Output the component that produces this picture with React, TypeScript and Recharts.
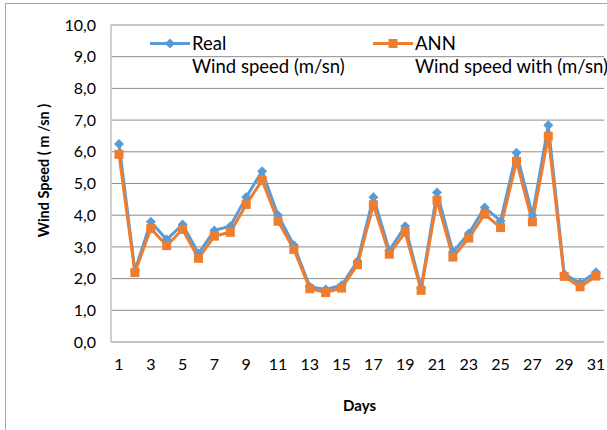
import { LineChart, Line, XAxis, YAxis, CartesianGrid, Label } from 'recharts';

// days of the month
const days = [
  1, 2, 3, 4, 5, 6, 7, 8, 9, 10, 11, 12, 13, 14, 15, 16,
  17, 18, 19, 20, 21, 22, 23, 24, 25, 26, 27, 28, 29, 30, 31,
];

// measured wind speed (m/sn)
const realSpeed = [
  6.25, 2.25, 3.79, 3.23, 3.71, 2.79, 3.52, 3.65, 4.57, 5.39, 4.0, 3.05, 1.74, 1.66, 1.79, 2.55,
  4.57, 2.89, 3.65, 1.7, 4.72, 2.84, 3.42, 4.24, 3.82, 5.97, 4.0, 6.84, 2.14, 1.86, 2.2,
];

// ANN predicted wind speed (m/sn)
const annSpeed = [
  5.92, 2.19, 3.58, 3.04, 3.55, 2.64, 3.34, 3.46, 4.34, 5.1, 3.81, 2.92, 1.68, 1.56, 1.7, 2.44,
  4.33, 2.77, 3.46, 1.63, 4.47, 2.68, 3.28, 4.03, 3.61, 5.7, 3.79, 6.49, 2.07, 1.74, 2.08,
];

const yTicks = [0, 1, 2, 3, 4, 5, 6, 7, 8, 9, 10];
const seriesNames = ['Real', 'ANN'];
const seriesSubtitles = ['Wind speed (m/sn)', 'Wind speed with (m/sn)'];
const seriesColors = ['#5b9bd5', '#ed7d31'];

const FONT = 'Lato, "Open Sans", sans-serif';

const data = days.map((d, i) => ({ day: d, real: realSpeed[i], ann: annSpeed[i] }));

function Diamond({ cx, cy, fill, size = 5 }: any) {
  if (cx == null || cy == null) return null;
  return (
    <path
      d={`M${cx},${cy - size}L${cx + size},${cy}L${cx},${cy + size}L${cx - size},${cy}Z`}
      fill={fill}
    />
  );
}

function Square({ cx, cy, fill, size = 4.5 }: any) {
  if (cx == null || cy == null) return null;
  return <rect x={cx - size} y={cy - size} width={size * 2} height={size * 2} fill={fill} />;
}

// legend sits over the plot, so it is drawn outside recharts' layout
function ChartLegend() {
  return (
    <div
      style={{
        position: 'absolute',
        left: 150,
        top: 32,
        width: 460,
        height: 50,
        fontFamily: FONT,
        fontSize: 18.5,
        color: '#000',
      }}
    >
      {seriesNames.map((name, i) => (
        <div key={name} style={{ position: 'absolute', left: i * 223, top: 0, display: 'flex' }}>
          <svg width={42} height={23} style={{ display: 'block' }}>
            <line x1={0} y1={11.5} x2={40} y2={11.5} stroke={seriesColors[i]} strokeWidth={3} />
            {i === 0 ? (
              <Diamond cx={20} cy={11.5} fill={seriesColors[i]} />
            ) : (
              <Square cx={20} cy={11.5} fill={seriesColors[i]} />
            )}
          </svg>
          <div style={{ lineHeight: '23px', whiteSpace: 'nowrap' }}>
            <div>{name}</div>
            <div>{seriesSubtitles[i]}</div>
          </div>
        </div>
      ))}
    </div>
  );
}

export default function App() {
  return (
    <div style={{ position: 'absolute', left: 0, top: 0, width: 607, height: 430, background: '#fff', overflow: 'hidden' }}>
      <div
        style={{
          position: 'absolute',
          left: 5,
          top: 3,
          width: 610,
          height: 440,
          borderLeft: '1px solid #a6a6a6',
          borderTop: '1px solid #a6a6a6',
        }}
      />
      <LineChart
        width={607}
        height={430}
        data={data}
        margin={{ top: 25, right: 3, left: 0, bottom: 0 }}
        style={{ position: 'absolute', left: 0, top: 0 }}
      >
        <CartesianGrid vertical={false} stroke="#8c8c8c" strokeWidth={1} />
        <XAxis
          dataKey="day"
          interval={1}
          height={88}
          padding={{ left: 8, right: 8 }}
          tickLine={false}
          tickSize={0}
          tickMargin={17}
          axisLine={{ stroke: '#c0c0c0', strokeWidth: 1.5 }}
          tick={{ fill: '#000', fontSize: 16, fontFamily: FONT }}
        >
          <Label
            content={({ viewBox }: any) => (
              <text
                x={viewBox.x + viewBox.width / 2 + 2}
                y={viewBox.y + 69}
                textAnchor="middle"
                fontFamily={FONT}
                fontSize={15}
                fontWeight="bold"
                fill="#000"
              >
                Days
              </text>
            )}
          />
        </XAxis>
        <YAxis
          width={111}
          domain={[0, 10]}
          ticks={yTicks}
          tickLine={false}
          tickSize={0}
          tickMargin={15}
          axisLine={{ stroke: '#c0c0c0', strokeWidth: 1.5 }}
          tick={{ fill: '#000', fontSize: 16, fontFamily: FONT }}
          tickFormatter={(v: number) => v.toFixed(1).replace('.', ',')}
        >
          <Label
            content={({ viewBox }: any) => {
              const x = 43.5;
              const y = viewBox.y + viewBox.height / 2 - 13;
              return (
                <text
                  x={x}
                  y={y}
                  transform={`rotate(-90, ${x}, ${y})`}
                  textAnchor="middle"
                  dominantBaseline="central"
                  fontFamily={FONT}
                  fontSize={14.5}
                  fontWeight="bold"
                  fill="#000"
                >
                  Wind Speed ( m /sn )
                </text>
              );
            }}
          />
        </YAxis>
        <Line
          dataKey="real"
          name={seriesNames[0]}
          stroke={seriesColors[0]}
          strokeWidth={3}
          dot={(p: any) => <Diamond key={`r${p.index}`} cx={p.cx} cy={p.cy} fill={seriesColors[0]} />}
          activeDot={false}
          isAnimationActive={false}
        />
        <Line
          dataKey="ann"
          name={seriesNames[1]}
          stroke={seriesColors[1]}
          strokeWidth={3}
          dot={(p: any) => <Square key={`a${p.index}`} cx={p.cx} cy={p.cy} fill={seriesColors[1]} />}
          activeDot={false}
          isAnimationActive={false}
        />
      </LineChart>
      <ChartLegend />
    </div>
  );
}
